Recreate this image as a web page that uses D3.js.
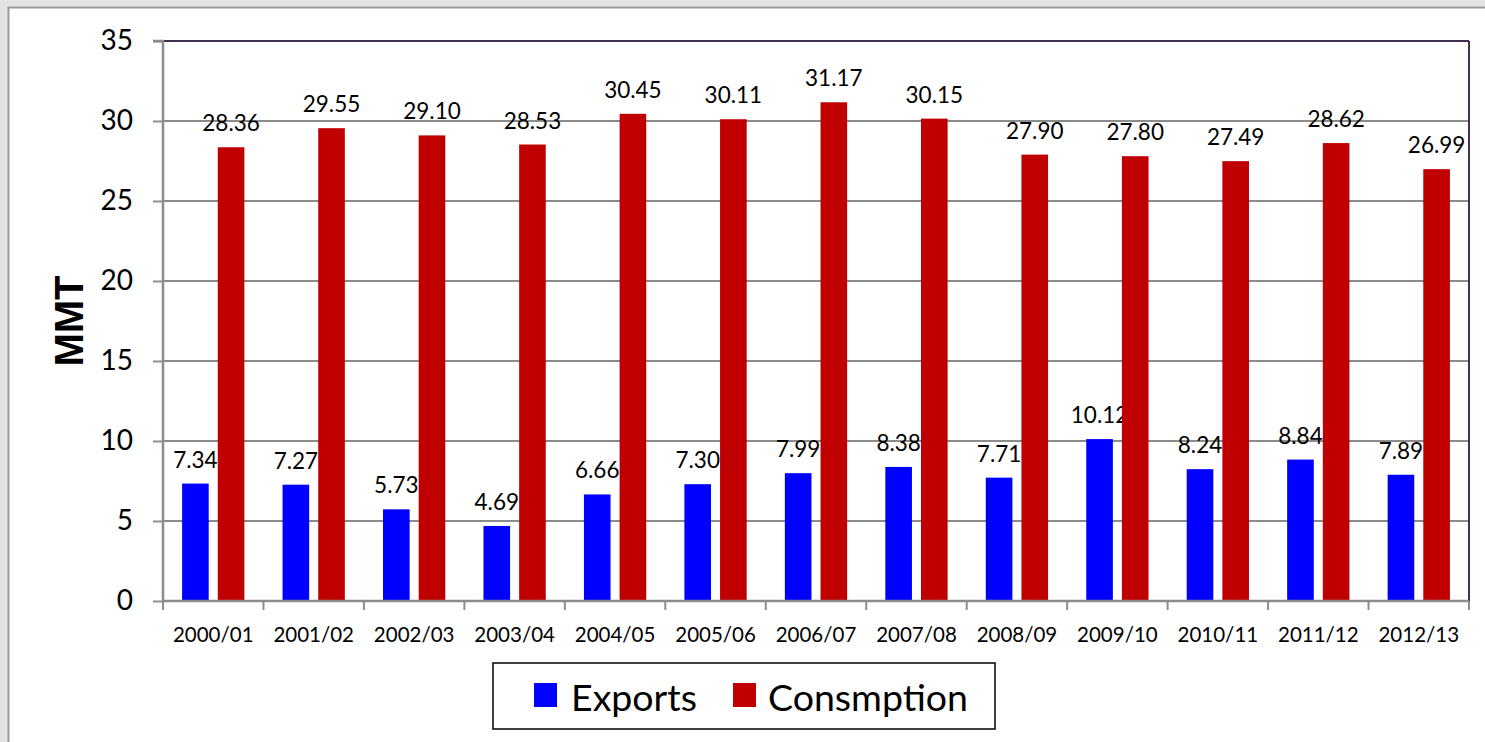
<!DOCTYPE html>
<html><head><meta charset="utf-8">
<script src="https://cdn.jsdelivr.net/npm/d3@7"></script>
<style>html,body{margin:0;padding:0;background:#e3e3e3;overflow:hidden}</style>
</head><body>
<svg id="c" width="1485" height="742"></svg>
<script>
const categories = ["2000/01","2001/02","2002/03","2003/04","2004/05","2005/06","2006/07","2007/08","2008/09","2009/10","2010/11","2011/12","2012/13"];
const exportsVals = [7.34,7.27,5.73,4.69,6.66,7.30,7.99,8.38,7.71,10.12,8.24,8.84,7.89];
const consumptionVals = [28.36,29.55,29.10,28.53,30.45,30.11,31.17,30.15,27.90,27.80,27.49,28.62,26.99];
const yTicks = [0,5,10,15,20,25,30,35];
const seriesNames = ["Exports","Consmption"];
const seriesColors = ["#0000ff","#c00000"];

const svg = d3.select("#c");
const font = "Lato, 'Open Sans', sans-serif";
// outer panel
svg.append("rect").attr("x",8.5).attr("y",7.5).attr("width",1490).attr("height",760)
  .attr("fill","#fff").attr("stroke","#9a9a9a").attr("stroke-width",2);

const L=163, R=1469, T=41, B=601;
const x = d3.scaleBand().domain(categories).range([L,R]).padding(0);
const y = d3.scaleLinear().domain([0,35]).range([B,T]);
const bw = x.bandwidth();

// gridlines
svg.append("g").selectAll("line").data(yTicks.filter(d=>d>0 && d<35)).join("line")
  .attr("x1",L).attr("x2",R).attr("y1",d=>y(d)).attr("y2",d=>y(d))
  .attr("stroke","#8c8c8c").attr("stroke-width",2);
// plot border top/right
svg.append("line").attr("x1",L).attr("x2",R).attr("y1",T).attr("y2",T).attr("stroke","#403152").attr("stroke-width",2);
svg.append("line").attr("x1",R).attr("x2",R).attr("y1",T).attr("y2",B).attr("stroke","#403152").attr("stroke-width",2);

// bars
const bar = [{off:0.19, vals:exportsVals},{off:0.545, vals:consumptionVals}];
const barW = bw*0.265;
bar.forEach((s,si)=>{
  svg.append("g").selectAll("rect").data(categories).join("rect")
    .attr("x",d=>x(d)+bw*s.off).attr("width",barW)
    .attr("y",(d,i)=>y(s.vals[i])).attr("height",(d,i)=>B-y(s.vals[i]))
    .attr("fill",seriesColors[si]);
  svg.append("g").selectAll("text").data(categories).join("text")
    .attr("x",d=>x(d)+bw*s.off+barW/2).attr("y",(d,i)=>y(s.vals[i])-16)
    .attr("text-anchor","middle").attr("font-family",font).attr("font-size",22.5).attr("fill","#000")
    .text((d,i)=>s.vals[i].toFixed(2));
});

// y axis
const yAxis = d3.axisLeft(y).tickValues(yTicks).tickSize(10).tickPadding(20).tickFormat(d3.format("d"));
const gy = svg.append("g").attr("transform",`translate(${L},0)`).call(yAxis);
gy.select(".domain").attr("stroke","#8c8c8c").attr("stroke-width",2.5).attr("d",`M-10,${T}H0V${B}`);
gy.selectAll(".tick line").attr("stroke","#8c8c8c").attr("stroke-width",2);
gy.selectAll(".tick text").attr("font-family",font).attr("font-size",28).attr("fill","#000");

// x axis
const xAxis = d3.axisBottom(x).tickSize(0).tickPadding(26);
const gx = svg.append("g").attr("transform",`translate(0,${B})`).call(xAxis);
gx.select(".domain").attr("stroke","#8c8c8c").attr("stroke-width",2.5).attr("d",`M${L},0H${R}`);
gx.selectAll(".tick text").attr("font-family",font).attr("font-size",20.5).attr("fill","#000");
const bounds = categories.map(c=>x(c)).concat([R]);
svg.append("g").selectAll("line").data(bounds).join("line")
  .attr("x1",d=>d).attr("x2",d=>d).attr("y1",B).attr("y2",B+9)
  .attr("stroke","#8c8c8c").attr("stroke-width",2);

// y title
svg.append("text").attr("transform","translate(83,321) rotate(-90)")
  .attr("text-anchor","middle").attr("font-family","'Liberation Sans', Arial, sans-serif")
  .attr("font-weight","bold").attr("font-size",40).text("MMT");

// legend
const lg = svg.append("g");
lg.append("rect").attr("x",493).attr("y",663).attr("width",502).attr("height",66)
  .attr("fill","#fff").attr("stroke","#000").attr("stroke-width",1.5);
const legX = [534,733], txtX=[571,768];
seriesNames.forEach((n,i)=>{
  lg.append("rect").attr("x",legX[i]).attr("y",683).attr("width",23).attr("height",24).attr("fill",seriesColors[i]);
  lg.append("text").attr("x",txtX[i]).attr("y",711).attr("font-family",font).attr("font-size",37.5).text(n);
});
</script>
</body></html>
